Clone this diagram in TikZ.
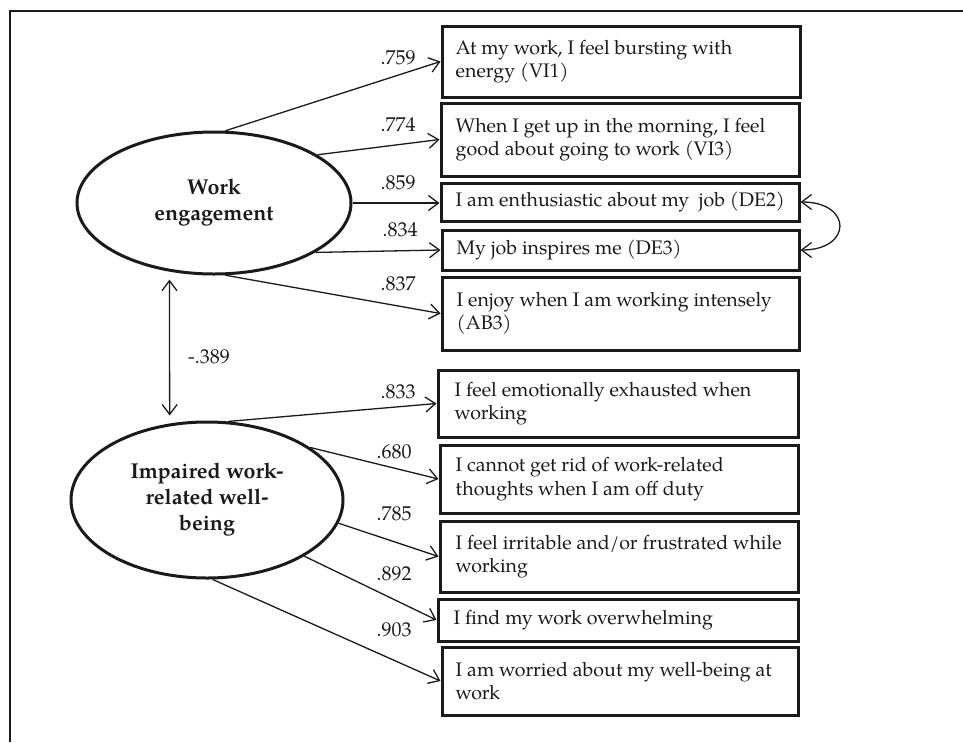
\documentclass[tikz,border=0pt]{standalone}
\usepackage{fontspec}
\setmainfont{TeX Gyre Pagella}
\usetikzlibrary{shapes.geometric,arrows.meta}

\definecolor{ink}{HTML}{1A1A1A}

\tikzset{
  itembox/.style={draw=ink, line width=3pt, rectangle, inner sep=0pt},
  itemtext/.style={anchor=west, align=left, inner sep=0pt, text=ink,
    font=\fontsize{19.6}{23.5}\selectfont},
  latent/.style={draw=ink, line width=3pt, ellipse, inner sep=0pt, align=center,
    text=ink, font=\bfseries\fontsize{21.5}{26}\selectfont},
  load/.style={draw=ink, line width=1.3pt, -{Straight Barb[length=10pt,width=15pt,line width=1.3pt]}},
  corr/.style={draw=ink, line width=1.3pt,
    {Straight Barb[length=10pt,width=15pt,line width=1.3pt]}-{Straight Barb[length=10pt,width=15pt,line width=1.3pt]}},
  coef/.style={text=ink, inner sep=0pt, font=\fontsize{20}{22}\selectfont},
}

\begin{document}
\begin{tikzpicture}[x=1pt,y=-1pt]
\useasboundingbox (0,0) rectangle (963,742);

% frame edges
\draw[ink, line width=2pt] (963,11) -- (10,11) -- (10,742);

% latent factors
\node[latent, minimum width=274pt, minimum height=142pt] (we) at (214,203) {Work\\engagement};
\node[latent, minimum width=272pt, minimum height=156pt] (wb) at (207,500) {Impaired work-\\related well-\\being};

% indicator boxes
\node[itembox, minimum width=358pt, minimum height=71pt] (b1) at (621,61.5) {};
\node[itembox, minimum width=358pt, minimum height=73pt] (b2) at (620,139.5) {};
\node[itembox, minimum width=358pt, minimum height=38pt] (b3) at (620,202) {};
\node[itembox, minimum width=357pt, minimum height=40pt] (b4) at (620.5,250) {};
\node[itembox, minimum width=357pt, minimum height=73pt] (b5) at (620.5,313.5) {};
\node[itembox, minimum width=360pt, minimum height=67pt] (b6) at (618,403.5) {};
\node[itembox, minimum width=358pt, minimum height=68pt] (b7) at (619,479) {};
\node[itembox, minimum width=358pt, minimum height=71pt] (b8) at (619,556.5) {};
\node[itembox, minimum width=360pt, minimum height=42pt] (b9) at (618,620) {};
\node[itembox, minimum width=356pt, minimum height=68pt] (b10) at (620,681) {};

% item wording
\node[itemtext] (t1) at ([xshift=15pt]b1.west) {At my work, I feel bursting with\\energy (VI1)};
\node[itemtext] (t2) at ([xshift=16pt]b2.west) {When I get up in the morning, I feel\\good about going to work (VI3)};
\node[itemtext] (t3) at ([xshift=16pt]b3.west) {I am enthusiastic about my\ \ job (DE2)};
\node[itemtext] (t4) at ([xshift=16pt]b4.west) {My job inspires me (DE3)};
\node[itemtext] (t5) at ([xshift=16pt]b5.west) {I enjoy when I am working intensely\\(AB3)};
\node[itemtext] (t6) at ([xshift=18pt]b6.west) {I feel emotionally exhausted when\\working};
\node[itemtext] (t7) at ([xshift=17pt]b7.west) {I cannot get rid of work-related\\thoughts when I am off duty};
\node[itemtext] (t8) at ([xshift=17pt]b8.west) {I feel irritable and/or frustrated while\\working};
\node[itemtext] (t9) at ([xshift=17pt]b9.west) {I find my work overwhelming};
\node[itemtext] (t10) at ([xshift=15pt]b10.west) {I am worried about my well-being at\\work};

% factor loadings
\draw[load] (we.81)  -- (b1.west);
\draw[load] (we.25)  -- (b2.west);
\draw[load] (we.east) -- (we.east -| b3.west);
\draw[load] (we.-26) -- (b4.west);
\draw[load] (we.-81) -- (b5.west);
\draw[load] (wb.75)  -- (b6.west);
\draw[load] (wb.27)  -- (b7.west);
\draw[load] (wb.-10) -- (b8.west);
\draw[load] (wb.-30) -- (b9.west);
\draw[load] (wb.-86) -- (b10.west);

\node[coef] (l1)  at (398,58)  {.759};
\node[coef] (l2)  at (398,125) {.774};
\node[coef] (l3)  at (398,183) {.859};
\node[coef] (l4)  at (400,230) {.834};
\node[coef] (l5)  at (398,284) {.837};
\node[coef] (l6)  at (398,392) {.833};
\node[coef] (l7)  at (394,452) {.680};
\node[coef] (l8)  at (394,514) {.785};
\node[coef] (l9)  at (394,574) {.892};
\node[coef] (l10) at (394,630) {.903};

% factor correlation
\draw[corr, shorten <=8pt, shorten >=8pt] (we.-123) -- (wb.116);
\node[coef, anchor=west] (r) at (188,357) {-.389};

% correlated residuals
\draw[corr] (b3.east) .. controls +(52,0) and +(52,0) .. (b4.east);
\end{tikzpicture}
\end{document}
